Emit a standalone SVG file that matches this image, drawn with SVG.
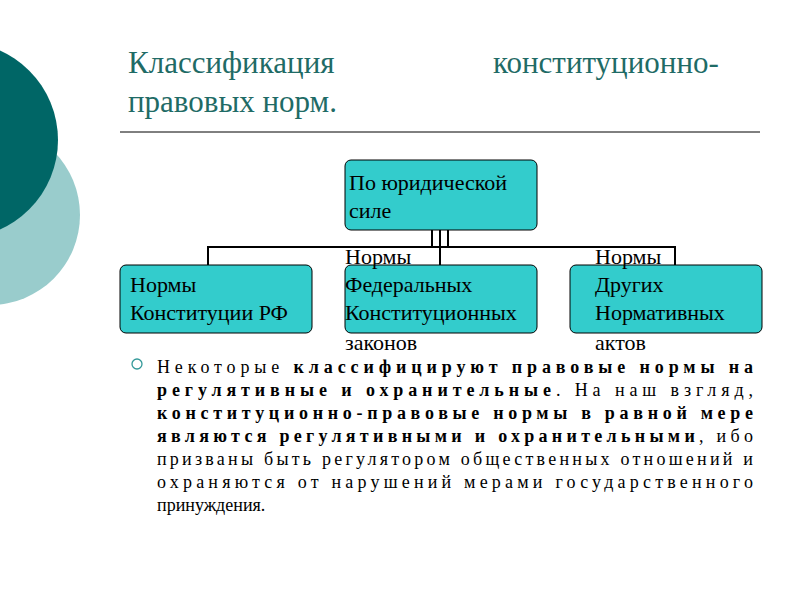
<svg xmlns="http://www.w3.org/2000/svg" width="800" height="600" viewBox="0 0 800 600">
<style>
.box{fill:#33cccc;stroke:#000;stroke-width:1}
.bt{font-family:"Liberation Serif",serif;font-size:22px;fill:#000}
.ln{stroke:#000;stroke-width:2;fill:none}
.tt{font-family:"Liberation Serif",serif;font-size:31px;fill:#1f6b66}
.p{font-family:"Liberation Serif",serif;font-size:18px;fill:#000}
.b{font-weight:bold}
</style>
<rect width="800" height="600" fill="#fff"/>
<circle cx="-10" cy="215" r="90" fill="#99cccc"/>
<circle cx="-40" cy="140" r="98" fill="#006666"/>
<text class="tt" x="128" y="73">Классификация</text>
<text class="tt" x="493" y="73">конституционно-</text>
<text class="tt" x="128" y="112">правовых норм.</text>
<line x1="120" y1="132" x2="760" y2="132" stroke="#000" stroke-width="1"/>
<g id="connectors">
<path class="ln" d="M432 230V247M440 230V265M448 230V247M208 265V247H675V265"/>
</g>
<g id="n-top"><rect class="box" x="345" y="160" width="192" height="70" rx="6"/>
<text class="bt" x="349" y="190">По юридической</text><text class="bt" x="349" y="218">силе</text></g>
<g id="n-left"><rect class="box" x="120" y="265" width="192" height="68" rx="6"/>
<text class="bt" x="130" y="292">Нормы</text><text class="bt" x="130" y="320">Конституции РФ</text></g>
<g id="n-mid"><rect class="box" x="345" y="265" width="192" height="68" rx="6"/>
<text class="bt" x="345" y="264">Нормы</text><text class="bt" x="345" y="292">Федеральных</text><text class="bt" x="345" y="320">Конституционных</text><text class="bt" x="345" y="350">законов</text></g>
<g id="n-right"><rect class="box" x="570" y="265" width="192" height="68" rx="6"/>
<text class="bt" x="595" y="264">Нормы</text><text class="bt" x="595" y="292">Других</text><text class="bt" x="595" y="320">Нормативных</text><text class="bt" x="595" y="350">актов</text></g>
<circle cx="137" cy="364" r="5" fill="none" stroke="#339999" stroke-width="1.3"/>
<text class="p" x="157" y="373" textLength="596" lengthAdjust="spacing">Некоторые <tspan class="b">классифицируют правовые нормы на</tspan></text>
<text class="p" x="157" y="396" textLength="596" lengthAdjust="spacing"><tspan class="b">регулятивные и охранительные</tspan>. На наш взгляд,</text>
<text class="p b" x="157" y="419" textLength="596" lengthAdjust="spacing">конституционно-правовые нормы в равной мере</text>
<text class="p" x="157" y="442" textLength="596" lengthAdjust="spacing"><tspan class="b">являются регулятивными и охранительными</tspan>, ибо</text>
<text class="p" x="157" y="465" textLength="596" lengthAdjust="spacing">призваны быть регулятором общественных отношений и</text>
<text class="p" x="157" y="488" textLength="596" lengthAdjust="spacing">охраняются от нарушений мерами государственного</text>
<text class="p" x="157" y="511">принуждения.</text>
</svg>
